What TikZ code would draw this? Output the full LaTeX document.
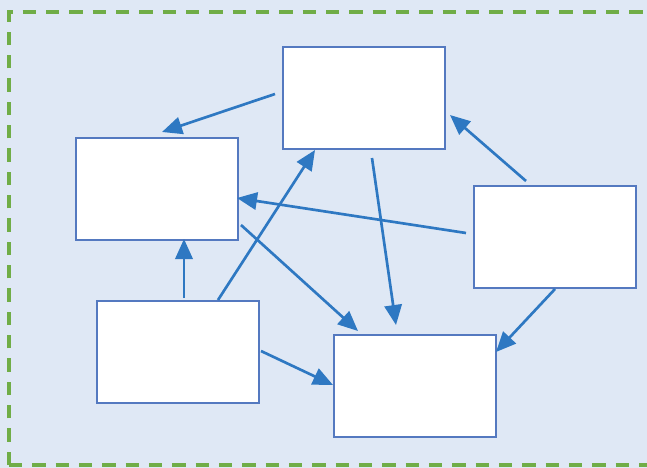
\documentclass[tikz,border=0pt]{standalone}
\usetikzlibrary{arrows.meta}
\definecolor{bgblue}{HTML}{DFE8F5}
\definecolor{boxline}{HTML}{5479C0}
\definecolor{arrowblue}{HTML}{2E78C2}
\definecolor{dashgreen}{HTML}{70AD47}
\begin{document}
\begin{tikzpicture}[x=0.75pt,y=-0.75pt,
  box/.style={draw=boxline,line width=1.3pt,fill=white,minimum width=121.5pt,minimum height=76.5pt,inner sep=0pt,anchor=north west},
  conn/.style={draw=arrowblue,line width=2pt,-{Triangle[length=15pt,width=13pt]}}]
\fill[bgblue] (0,0) rectangle (647,468);
\useasboundingbox (0,0) rectangle (647,468);
\draw[dashgreen,line width=2.5pt,dash pattern=on 10pt off 7.5pt] (9,465) -- (9,12) -- (660,12);
\draw[dashgreen,line width=2.5pt,dash pattern=on 10pt off 7.5pt] (9,465) -- (660,465);
\node[box] (A) at (282,46) {};
\node[box] (B) at (75,137) {};
\node[box] (C) at (473,185) {};
\node[box] (D) at (96,300) {};
\node[box] (E) at (333,334) {};
\coordinate (a1) at (275,94);  \coordinate (b1) at (162,132);
\coordinate (c1) at (526,181); \coordinate (a2) at (450,115);
\coordinate (c2) at (466,233); \coordinate (b2) at (237,198);
\coordinate (a3) at (372,158); \coordinate (e1) at (396,325);
\coordinate (b3) at (241,225); \coordinate (e2) at (358,331);
\coordinate (c3) at (555,289); \coordinate (e3) at (496,352);
\coordinate (d1) at (184,298); \coordinate (b4) at (184,239);
\coordinate (d2) at (218,300); \coordinate (a4) at (315,150);
\coordinate (d3) at (261,351); \coordinate (e4) at (333,385);
\draw[conn] (a1) -- (b1);
\draw[conn] (c1) -- (a2);
\draw[conn] (c2) -- (b2);
\draw[conn] (a3) -- (e1);
\draw[conn] (b3) -- (e2);
\draw[conn] (c3) -- (e3);
\draw[conn] (d1) -- (b4);
\draw[conn] (d2) -- (a4);
\draw[conn] (d3) -- (e4);
\end{tikzpicture}
\end{document}
